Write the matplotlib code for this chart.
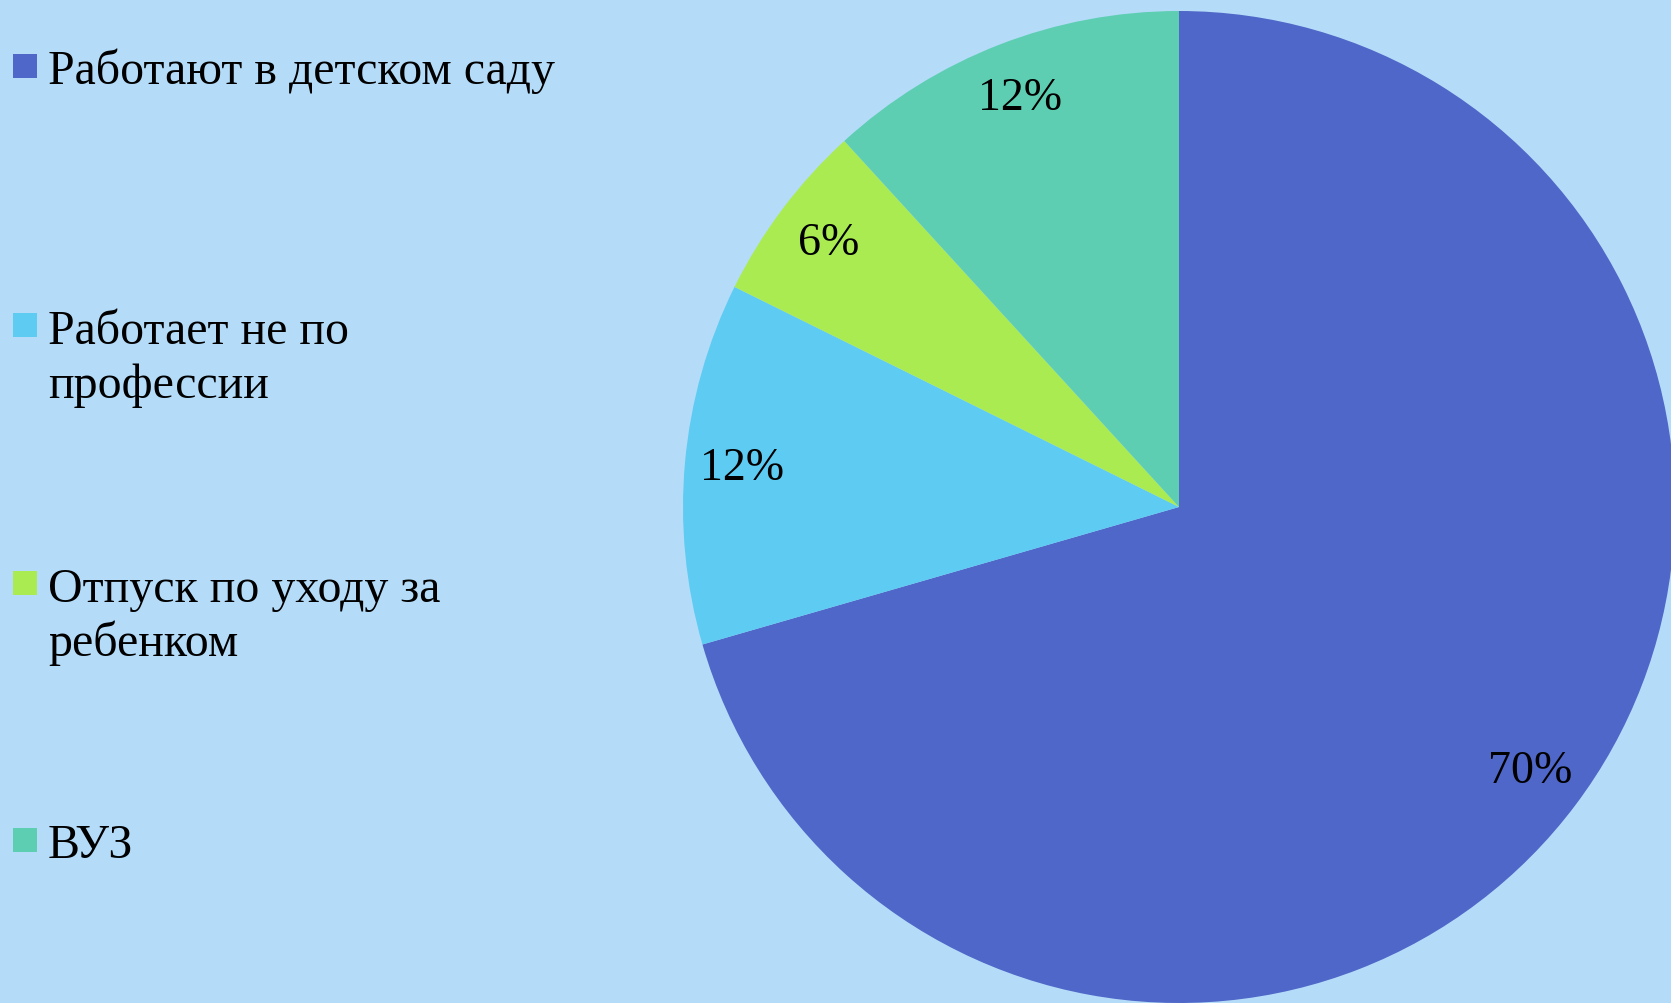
import matplotlib
matplotlib.use("Agg")
import matplotlib.pyplot as plt
from matplotlib.patches import Rectangle

# Data
categories = ["Работают в детском саду", "Работает не по\nпрофессии",
              "Отпуск по уходу за\nребенком", "ВУЗ"]
values = [70.6, 11.8, 5.9, 11.8]
pct_labels = ["70%", "12%", "6%", "12%"]
colors = ["#4F67C8", "#5ECBF2", "#AAEB52", "#5ECEB2"]
bg = "#B4DCF9"

W, H = 1671, 1004
fig = plt.figure(figsize=(W / 100, H / 100), dpi=100, facecolor=bg)
plt.rcParams['font.family'] = ['Liberation Serif', 'DejaVu Serif']

# Pie axes: centre (1179, 508) px from top-left, radius ~496 px
cx, cy, r = 1179, 508, 496
ax = fig.add_axes([(cx - r) / W, (H - cy - r) / H, 2 * r / W, 2 * r / H])
ax.set_facecolor(bg)
wedges, texts = ax.pie(values, labels=pct_labels, colors=colors, startangle=90,
                       counterclock=False, labeldistance=0.885,
                       wedgeprops=dict(linewidth=0),
                       textprops=dict(ha='center', va='center', fontsize=33,
                                      color='black'))
ax.set_xlim(-1, 1)
ax.set_ylim(-1, 1)
ax.set_aspect('equal')
ax.axis('off')

# Legend (manual, left side)
entry_centers = [67, 326, 584, 841]
sq = 24
line_gap = 55
for name, col, yc in zip(categories, colors, entry_centers):
    fig.patches.append(Rectangle((13 / W, (H - yc - sq / 2) / H), sq / W, sq / H,
                                 transform=fig.transFigure, facecolor=col,
                                 edgecolor='none'))
    for k, line in enumerate(name.split("\n")):
        fig.text(48 / W, (H - yc - 17.5 - k * line_gap) / H, line,
                 fontsize=34.5, va='baseline', ha='left', color='black')

fig.savefig("out.png", dpi=100, facecolor=bg)
